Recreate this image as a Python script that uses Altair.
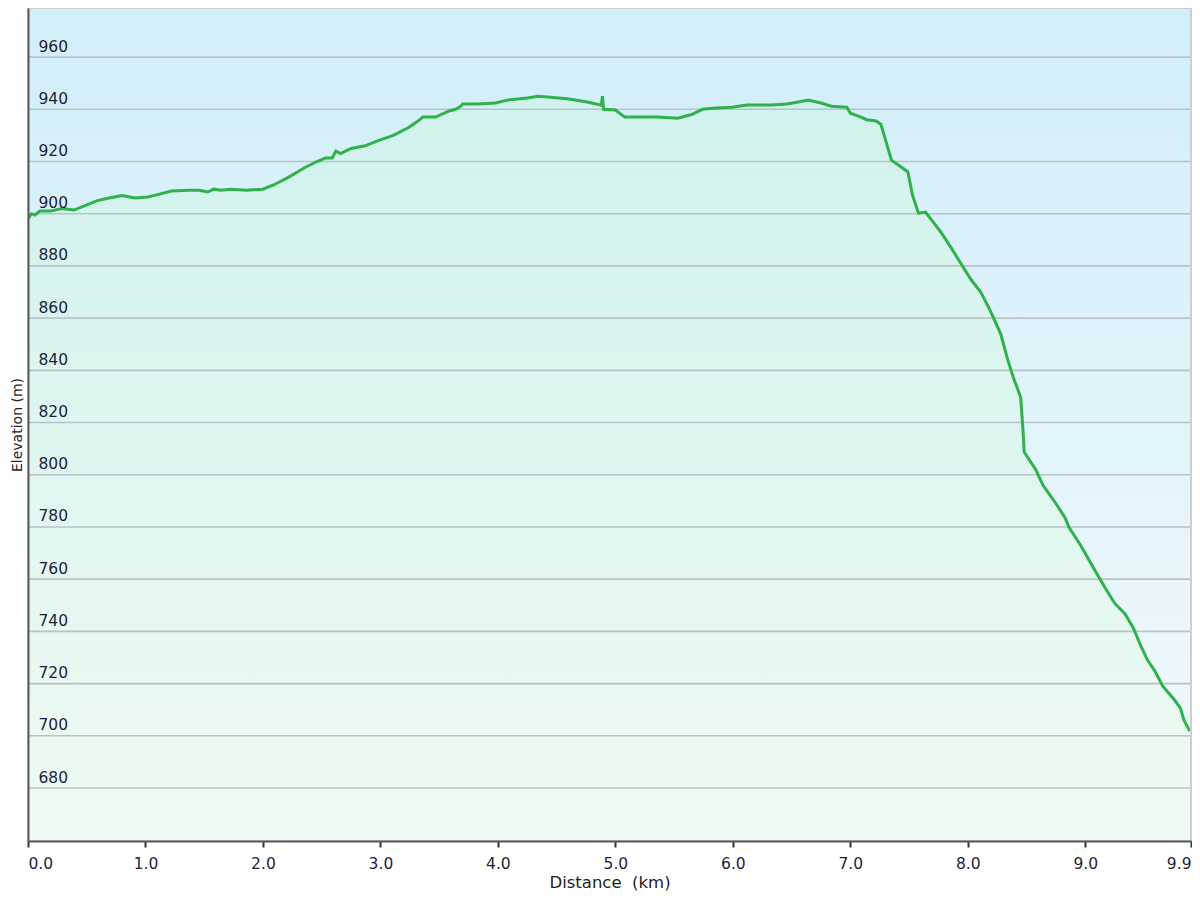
import altair as alt
import pandas as pd

# Elevation profile
dist = [0.00, 0.03, 0.06, 0.10, 0.19, 0.29, 0.39, 0.48, 0.59, 0.69, 0.80, 0.91, 1.02,
        1.12, 1.22, 1.37, 1.46, 1.53, 1.58, 1.64, 1.73, 1.86, 2.00, 2.09, 2.22, 2.35,
        2.46, 2.53, 2.59, 2.62, 2.66, 2.75, 2.87, 2.98, 3.11, 3.24, 3.32, 3.36, 3.47,
        3.58, 3.64, 3.68, 3.70, 3.83, 3.98, 4.08, 4.25, 4.34, 4.42, 4.59, 4.76, 4.88,
        4.89, 4.90, 5.00, 5.08, 5.19, 5.36, 5.53, 5.65, 5.74, 5.86, 5.99, 6.12, 6.33,
        6.46, 6.58, 6.64, 6.75, 6.84, 6.97, 7.00, 7.07, 7.14, 7.22, 7.26, 7.35, 7.43,
        7.49, 7.53, 7.58, 7.64, 7.77, 7.86, 7.94, 8.03, 8.11, 8.19, 8.28, 8.34, 8.39,
        8.45, 8.47, 8.48, 8.58, 8.64, 8.75, 8.83, 8.86, 8.96, 9.08, 9.17, 9.25, 9.34,
        9.41, 9.47, 9.53, 9.59, 9.66, 9.76, 9.81, 9.84, 9.89]
elev = [898.0, 900.0, 899.5, 901.0, 901.0, 902.0, 901.4, 903.0, 905.0, 906.0, 907.0, 906.0, 906.4,
        907.5, 908.7, 909.0, 909.0, 908.3, 909.4, 909.0, 909.4, 909.0, 909.4, 911.0, 914.0, 917.5,
        920.0, 921.3, 921.3, 924.0, 923.0, 925.0, 926.0, 928.0, 930.0, 933.0, 935.5, 937.0, 937.0,
        939.3, 940.0, 941.0, 942.0, 942.0, 942.4, 943.5, 944.3, 945.0, 944.7, 944.0, 942.8, 941.6,
        945.0, 940.0, 939.7, 937.0, 937.0, 937.0, 936.6, 938.0, 940.0, 940.5, 940.8, 941.6, 941.6,
        942.0, 943.0, 943.5, 942.4, 941.2, 940.8, 938.5, 937.4, 936.0, 935.5, 934.3, 920.5, 918.0,
        916.0, 907.0, 900.2, 900.6, 893.0, 886.8, 881.0, 874.6, 870.0, 863.0, 854.0, 844.0, 837.0,
        829.7, 817.0, 808.7, 801.8, 796.0, 789.0, 783.4, 780.0, 773.0, 763.5, 756.6, 750.8, 746.6,
        741.2, 734.7, 729.0, 725.0, 719.0, 713.7, 710.6, 706.0, 701.8]

y_ticks = [680, 700, 720, 740, 760, 780, 800, 820, 840, 860, 880, 900, 920, 940, 960]
x_ticks = [0, 1, 2, 3, 4, 5, 6, 7, 8, 9, 9.9]

Y_MIN, Y_MAX = 659.7, 978.8
X_MIN, X_MAX = 0.0, 9.9
W, H = 1163, 833

df = pd.DataFrame({"dist": dist, "elev": elev})
grid_df = pd.DataFrame({"v": y_ticks})
one = pd.DataFrame({"a": [0]})

FONT = "DejaVu Sans"
LABEL = "#1f1f3a"

xscale = alt.Scale(domain=[X_MIN, X_MAX], nice=False, zero=False)
yscale = alt.Scale(domain=[Y_MIN, Y_MAX], nice=False, zero=False)

bg = alt.Chart(one).mark_rect(
    color=alt.Gradient(gradient="linear", x1=0, x2=0, y1=0, y2=1,
                       stops=[alt.GradientStop(offset=0, color="#d1eef9"),
                              alt.GradientStop(offset=1, color="#f2fafd")])
).encode(x=alt.value(0), x2=alt.value(W), y=alt.value(0), y2=alt.value(H))

area = alt.Chart(df).mark_area(
    color=alt.Gradient(gradient="linear", x1=0, x2=0, y1=0, y2=1,
                       stops=[alt.GradientStop(offset=0, color="#d1f2ee"),
                              alt.GradientStop(offset=1, color="#eefbf2")]),
    interpolate="linear"
).encode(
    x=alt.X("dist:Q", scale=xscale,
            axis=alt.Axis(values=x_ticks, format=".1f", title="Distance\u00a0 (km)",
                          grid=False, domainColor="#5a5a5a", domainWidth=2,
                          tickColor="#333333", tickWidth=2, tickSize=6,
                          labelPadding=9, labelFlush=True, labelFontSize=15.5,
                          labelColor=LABEL, labelFont=FONT,
                          titleFont=FONT, titleFontSize=16.5, titleFontWeight="normal",
                          titleColor="#222222", titleY=41, titleBaseline="middle",
                          zindex=1)),
    y=alt.Y("elev:Q", scale=yscale,
            axis=alt.Axis(values=y_ticks, title="Elevation (m)", grid=False,
                          ticks=False, labelAlign="left", labelPadding=-10,
                          labelBaseline="alphabetic", labelOffset=-6,
                          labelFontSize=15.5, labelColor=LABEL, labelFont=FONT,
                          domainColor="#5a5a5a", domainWidth=2,
                          titleFont=FONT, titleFontSize=14, titleFontWeight="normal",
                          titleColor="#222222", titleX=-11, titleY=H / 2,
                          titleBaseline="middle", titleAlign="center", titleAngle=-90,
                          zindex=1)),
    y2=alt.datum(Y_MIN),
)

grid = alt.Chart(grid_df).mark_rule(color="#b8c3c7", strokeWidth=1.6).encode(
    y=alt.Y("v:Q", scale=yscale)
)

line = alt.Chart(df).mark_line(color="#2fb14b", strokeWidth=3, interpolate="linear").encode(
    x=alt.X("dist:Q", scale=xscale),
    y=alt.Y("elev:Q", scale=yscale),
)

border = alt.Chart(one).mark_rect(filled=False, stroke="#cfcfcf", strokeWidth=2).encode(
    x=alt.value(0), x2=alt.value(W), y=alt.value(0), y2=alt.value(H)
)

chart = alt.layer(bg, area, grid, line, border).properties(
    width=W, height=H,
    autosize=alt.AutoSizeParams(type="none"),
    padding={"left": 20, "top": 0, "right": 1, "bottom": 50},
).configure_view(stroke=None).configure(background="white")

chart.save("out.html", embed_options={"renderer": "svg", "actions": False})
